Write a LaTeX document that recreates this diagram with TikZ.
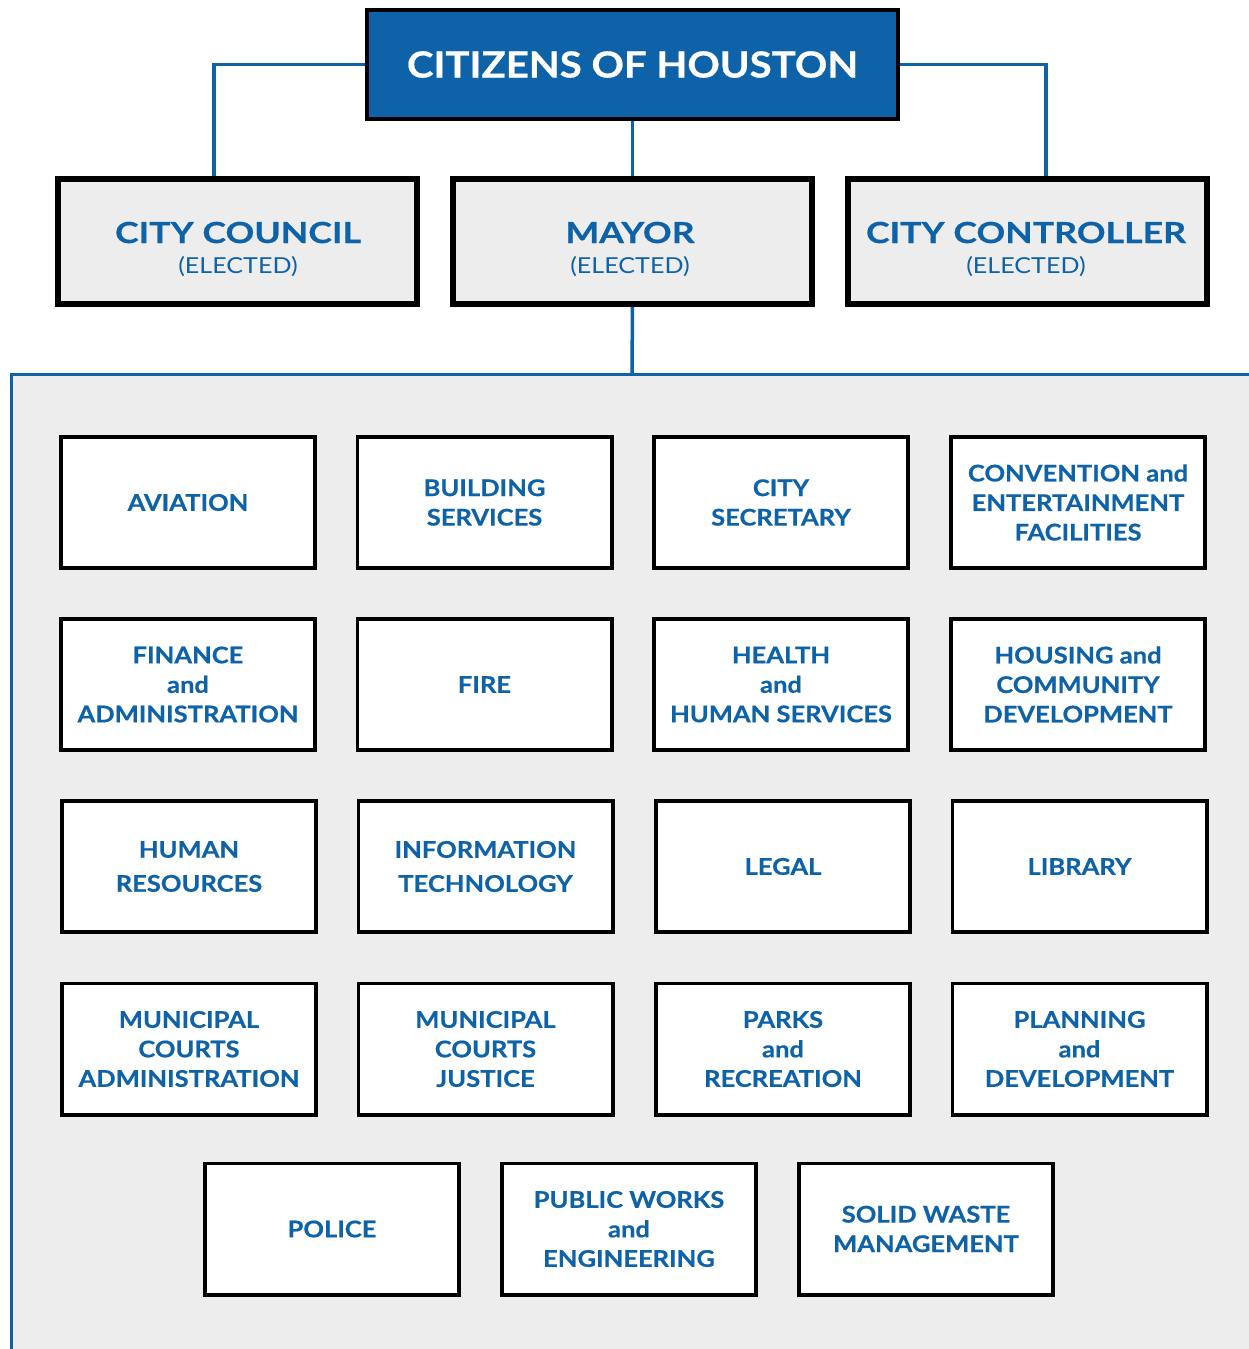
\documentclass[tikz,border=0pt]{standalone}
\usepackage{fontspec}
\setmainfont{Lato}
\newfontfamily\deptfont[FakeStretch=1.11,BoldFeatures={FakeBold=0.5}]{Lato}
\newfontfamily\titlefont[FakeStretch=1.115,BoldFeatures={FakeBold=0.5}]{Lato}
\newfontfamily\electfont[FakeStretch=1.23,BoldFeatures={FakeBold=0.5}]{Lato}
\newfontfamily\subfont[FakeStretch=1.14]{Lato}
\usetikzlibrary{backgrounds}
\definecolor{hblue}{HTML}{0E62A8}
\definecolor{hgrey}{HTML}{EDEDED}
\begin{document}
\begin{tikzpicture}[x=1pt,y=-1pt,
  conn/.style={draw=hblue,line width=3.5pt},
  dept/.style={draw=black,line width=3.8pt,fill=white,minimum width=254.2pt,minimum height=131.2pt,
    align=center,text=hblue,font=\deptfont\fontsize{23}{29.5}\selectfont\bfseries,inner sep=0pt,outer sep=0pt},
  dept34/.style={dept,font=\deptfont\fontsize{23}{34}\selectfont\bfseries},
  elect/.style={draw=black,line width=6pt,fill=hgrey,minimum width=359pt,minimum height=125pt,
    inner sep=0pt,outer sep=0pt},
  eltitle/.style={anchor=base,text=hblue,inner sep=0pt,font=\electfont\fontsize{29}{30}\selectfont\bfseries},
  elsub/.style={anchor=base,text=hblue,inner sep=0pt,font=\subfont\fontsize{22}{24}\selectfont},
  tbox/.style={draw=black,line width=4pt,fill=hblue,minimum width=531pt,minimum height=109pt,
    text=white,font=\titlefont\fontsize{36}{40}\selectfont\bfseries,inner sep=0pt,outer sep=0pt}]
\useasboundingbox (0,0) rectangle (1248,1349);
% panel
\fill[hgrey] (11,374) rectangle (1252,1353);
\draw[conn,line width=3pt] (1252,374) -- (11,374) -- (11,1353);
\coordinate (pan) at (632,374);
% top boxes
\node[tbox] (cit) at (632.5,64.5) {CITIZENS OF HOUSTON};
\node[elect] (council) at (237.5,241.5) {};
\node[elect] (mayor) at (632.5,241.5) {};
\node[elect] (ctrl) at (1027.5,241.5) {};
\node[eltitle] (councilt) at (238,243) {CITY COUNCIL};
\node[elsub] (councils) at (238,273) {(ELECTED)};
\node[eltitle] (mayort) at (630,243) {MAYOR};
\node[elsub] (mayors) at (630,273) {(ELECTED)};
\node[eltitle] (ctrlt) at (1026,243) {CITY CONTROLLER};
\node[elsub] (ctrls) at (1026,273) {(ELECTED)};
\coordinate (cl) at (214,176);
\coordinate (cr) at (1046,176);
\begin{scope}[on background layer]
\draw[conn] (cit.west) -| (cl);
\draw[conn] (cit.east) -| (cr);
\draw[conn] (cit.south) -- (mayor.north);
\draw[conn] (mayor.south) -- (pan);
\end{scope}
% departments
\node[dept] (d1) at (188,502.5) {AVIATION};
\node[dept] (d2) at (484.5,502.5) {BUILDING\\SERVICES};
\node[dept] (d3) at (781,502.5) {CITY\\SECRETARY};
\node[dept] (d4) at (1078,502.5) {CONVENTION and\\ENTERTAINMENT\\FACILITIES};
\node[dept] (d5) at (188,684.5) {FINANCE\\and\\ADMINISTRATION};
\node[dept] (d6) at (484.5,684.5) {FIRE};
\node[dept] (d7) at (781,684.5) {HEALTH\\and\\HUMAN SERVICES};
\node[dept] (d8) at (1078,684.5) {HOUSING and\\COMMUNITY\\DEVELOPMENT};
\node[dept34] (d9) at (189,866.5) {HUMAN\\RESOURCES};
\node[dept34] (d10) at (485.5,866.5) {INFORMATION\\TECHNOLOGY};
\node[dept] (d11) at (783,866.5) {LEGAL};
\node[dept] (d12) at (1079.5,866.5) {LIBRARY};
\node[dept] (d13) at (189,1049) {MUNICIPAL\\COURTS\\ADMINISTRATION};
\node[dept] (d14) at (485.5,1049) {MUNICIPAL\\COURTS\\JUSTICE};
\node[dept] (d15) at (783,1049) {PARKS\\and\\RECREATION};
\node[dept] (d16) at (1079.5,1049) {PLANNING\\and\\DEVELOPMENT};
\node[dept] (d17) at (332,1229) {POLICE};
\node[dept] (d18) at (629,1229) {PUBLIC WORKS\\and\\ENGINEERING};
\node[dept] (d19) at (926,1229) {SOLID WASTE\\MANAGEMENT};
\end{tikzpicture}
\end{document}
